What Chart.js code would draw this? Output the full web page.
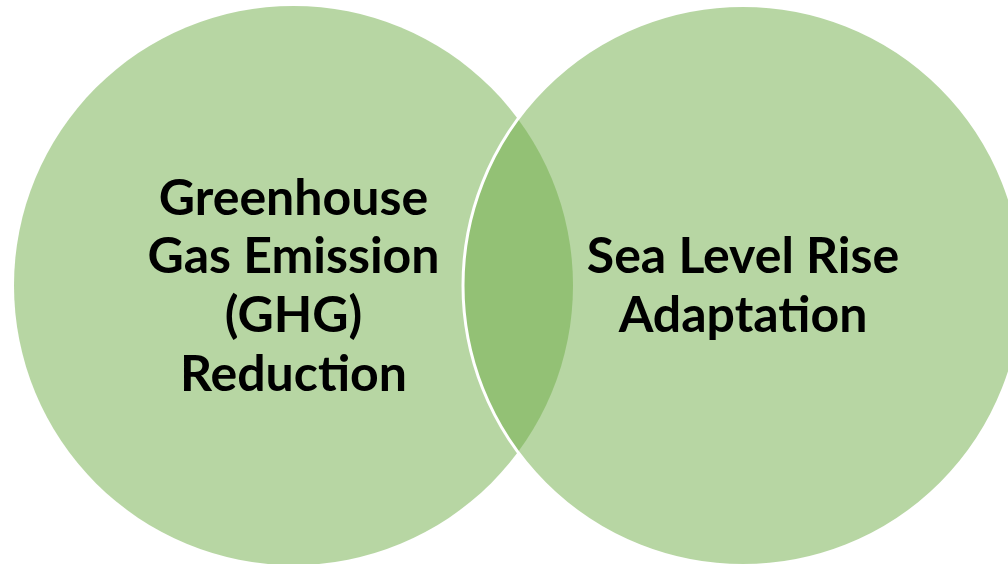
<!DOCTYPE html>
<html>
<head>
<meta charset="utf-8">
<script src="https://cdn.jsdelivr.net/npm/chart.js@4/dist/chart.umd.min.js"></script>
<style>
  html, body { margin: 0; padding: 0; background: #fff; }
  #wrap { width: 1008px; height: 564px; position: relative; }
</style>
</head>
<body>
<div id="wrap"><canvas id="venn"></canvas></div>
<script>
// Venn sets (centres and radius in diagram units, 1 unit = 1px)
const setNames = ['ghg', 'slr'];
const setLabels = [
  ['Greenhouse', 'Gas Emission', '(GHG)', 'Reduction'],
  ['Sea Level Rise', 'Adaptation']
];
const centerX = [293.5, 743];
const centerY = [285.5, 285.5];
const radius = [279.5, 280];

// fill is semi transparent so the overlap turns darker
const fill = 'rgba(112, 173, 71, 0.5)';

const labelPlugin = {
  id: 'vennLabels',
  afterDatasetsDraw(chart) {
    const { ctx, scales: { x, y } } = chart;
    ctx.save();
    ctx.fillStyle = '#000';
    ctx.font = 'bold 50px Lato, "Open Sans", sans-serif';
    ctx.textAlign = 'center';
    ctx.textBaseline = 'middle';
    const lineH = 58.7;
    setLabels.forEach((lines, i) => {
      const px = x.getPixelForValue(centerX[i]);
      const py = y.getPixelForValue(centerY[i]);
      lines.forEach((t, j) => {
        ctx.fillText(t, px, py + 1 + (j - (lines.length - 1) / 2) * lineH);
      });
    });
    ctx.restore();
  }
};

const radiusPx = (i) => (ctx) => {
  const s = ctx.chart.scales.x;
  return s.getPixelForValue(radius[i]) - s.getPixelForValue(0);
};

new Chart(document.getElementById('venn'), {
  type: 'scatter',
  data: {
    datasets: setNames.map((name, i) => ({
      label: name,
      data: [{ x: centerX[i], y: centerY[i] }],
      // lower order is drawn last, so the second circle sits on top
      order: i === 0 ? 1 : 0,
      pointBackgroundColor: fill,
      // only the second circle shows a white rim across the overlap
      pointBorderColor: '#fff',
      pointBorderWidth: i === 0 ? 0 : 3,
      pointRadius: radiusPx(i),
      pointHoverRadius: radiusPx(i),
      clip: false,
    })),
  },
  options: {
    responsive: true,
    maintainAspectRatio: false,
    animation: false,
    layout: { padding: 0 },
    events: [],
    scales: {
      x: { type: 'linear', min: 0, max: 1008, display: false },
      y: { type: 'linear', min: 0, max: 564, reverse: true, display: false },
    },
    plugins: {
      legend: { display: false },
      tooltip: { enabled: false },
    },
  },
  plugins: [labelPlugin],
});
</script>
</body>
</html>
